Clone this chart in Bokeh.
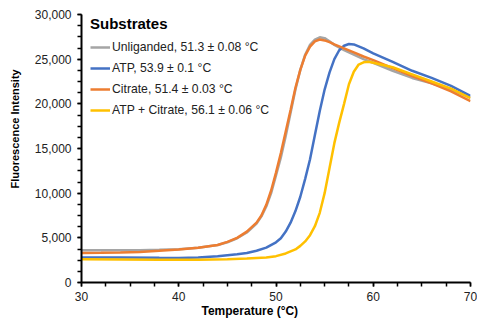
from bokeh.plotting import figure
from bokeh.models import Legend, LegendItem, SingleIntervalTicker, NumeralTickFormatter, Range1d, Title
from bokeh.embed import file_html
from bokeh.resources import INLINE

# --- data ---
t_unlig = [30, 32, 34, 36, 38, 40, 42, 44, 45, 46, 47, 48, 48.5, 49, 49.5, 50, 50.5, 51, 51.5, 52, 52.5, 53, 53.5, 54, 54.5, 55, 55.5, 56, 57, 58, 59, 60, 62, 64, 66, 68, 70]
f_unlig = [3600, 3600, 3600, 3620, 3660, 3720, 3900, 4200, 4500, 4950, 5600, 6600, 7400, 8500, 10000, 12000, 14000, 16400, 19000, 21600, 23800, 25500, 26600, 27200, 27450, 27350, 27000, 26600, 26000, 25500, 25000, 24600, 23700, 22900, 22300, 21600, 20700]

t_atp = [30, 34, 38, 40, 42, 44, 45, 46, 47, 48, 49, 50, 50.5, 51, 51.5, 52, 52.5, 53, 53.5, 54, 54.5, 55, 55.5, 56, 56.5, 57, 57.5, 58, 59, 60, 62, 64, 66, 68, 70]
f_atp = [2800, 2790, 2760, 2750, 2800, 2950, 3050, 3150, 3300, 3550, 3900, 4500, 4950, 5700, 6700, 8000, 9600, 11600, 13800, 16500, 19200, 21600, 23500, 25000, 26000, 26500, 26700, 26650, 26200, 25650, 24700, 23700, 22900, 22000, 20900]

t_cit = [30, 32, 34, 36, 38, 40, 42, 44, 45, 46, 47, 48, 48.5, 49, 49.5, 50, 50.5, 51, 51.5, 52, 52.5, 53, 53.5, 54, 54.5, 55, 55.5, 56, 57, 58, 59, 60, 62, 64, 66, 68, 70]
f_cit = [3300, 3320, 3350, 3420, 3550, 3700, 3900, 4200, 4550, 5000, 5700, 6700, 7500, 8700, 10300, 12300, 14500, 16900, 19300, 21800, 23800, 25400, 26400, 27000, 27200, 27100, 26900, 26650, 26200, 25750, 25300, 24900, 24000, 23100, 22300, 21400, 20300]

t_both = [30, 34, 38, 42, 45, 47, 49, 50, 51, 52, 52.5, 53, 53.5, 54, 54.5, 55, 55.5, 56, 56.5, 57, 57.5, 58, 58.5, 59, 59.5, 60, 61, 62, 64, 66, 68, 70]
f_both = [2600, 2580, 2560, 2560, 2600, 2680, 2800, 2950, 3250, 3700, 4100, 4600, 5300, 6300, 7800, 10000, 12800, 15600, 17900, 20000, 22200, 23600, 24400, 24650, 24700, 24600, 24350, 24100, 23300, 22500, 21700, 20650]

labels = ["Unliganded, 51.3 \u00b1 0.08 \u00b0C", "ATP, 53.9 \u00b1 0.1 \u00b0C",
          "Citrate, 51.4 \u00b1 0.03 \u00b0C", "ATP + Citrate, 56.1 \u00b1 0.06 \u00b0C"]
colors = ["#A5A5A5", "#4472C4", "#ED7D31", "#FFC000"]
x_title = "Temperature (\u00b0C)"
y_title = "Fluorescence Intensity"

FONT = "Liberation Sans"

p = figure(width=477, height=319, output_backend="svg", toolbar_location=None,
           x_range=Range1d(30, 70), y_range=Range1d(0, 30000),
           min_border_left=78, min_border_right=7, min_border_top=14, min_border_bottom=36)
p.outline_line_color = None
p.xgrid.visible = False
p.ygrid.visible = False

series = [(t_unlig, f_unlig), (t_atp, f_atp), (t_cit, f_cit), (t_both, f_both)]
renderers = []
for (tx, fy), c in zip(series, colors):
    r = p.line(tx, fy, line_color=c, line_width=2.5)
    renderers.append(r)

p.xaxis.ticker = SingleIntervalTicker(interval=10, num_minor_ticks=4)
p.yaxis.ticker = SingleIntervalTicker(interval=5000, num_minor_ticks=4)
p.yaxis.formatter = NumeralTickFormatter(format="0,0")

for ax in (p.xaxis[0], p.yaxis[0]):
    ax.axis_line_color = "black"
    ax.axis_line_width = 2
    ax.major_tick_line_color = "black"
    ax.minor_tick_line_color = "black"
    ax.major_tick_line_width = 1.5
    ax.minor_tick_line_width = 1.5
    ax.major_tick_out = 4
    ax.major_tick_in = 0
    ax.minor_tick_out = 4
    ax.minor_tick_in = 0
    ax.major_label_text_font = FONT
    ax.major_label_text_font_size = "12px"
    ax.major_label_text_color = "#222222"

p.xaxis.major_label_standoff = 5
p.yaxis.major_label_standoff = 6

# axis titles (offset from the frame centre, as in the reference)
xt = Title(text=x_title, align="left", offset=120, standoff=0, vertical_align="top",
           text_font=FONT, text_font_size="12px", text_font_style="bold", text_color="black")
p.add_layout(xt, "below")
yt = Title(text=y_title, align="left", offset=94, standoff=17, vertical_align="top",
           text_font=FONT, text_font_size="11px", text_font_style="bold", text_color="black")
p.add_layout(yt, "left")

legend = Legend(items=[LegendItem(label=l, renderers=[r]) for l, r in zip(labels, renderers)],
                location=(9, 163), title="Substrates")
legend.title_text_font = FONT
legend.title_text_font_size = "15px"
legend.title_text_font_style = "bold"
legend.title_text_color = "black"
legend.title_standoff = 6
legend.label_text_font = FONT
legend.label_text_font_size = "12.2px"
legend.label_text_color = "#222222"
legend.glyph_width = 20
legend.glyph_height = 18
legend.label_height = 18
legend.label_standoff = 2
legend.spacing = 3
legend.padding = 0
legend.margin = 0
legend.background_fill_alpha = 0
legend.border_line_color = None
p.add_layout(legend)

open("out.html", "w").write(file_html(p, INLINE))
